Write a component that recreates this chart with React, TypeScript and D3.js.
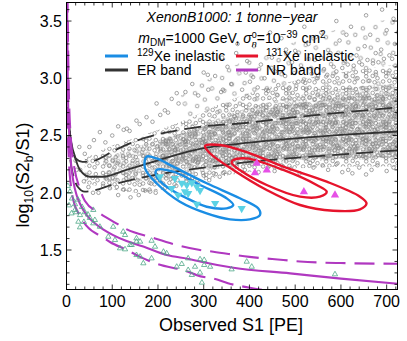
import React from "react";
import * as d3 from "d3";

// ---------- data ----------
const xTicks = [0, 100, 200, 300, 400, 500, 600, 700];
const yTicks = [1.5, 2.0, 2.5, 3.0, 3.5];

// ER band (S1, log10(S2b/S1))
const erMedian: [number, number][] = [[3, 2.75], [7.7, 2.52], [18.6, 2.315], [29.5, 2.2], [51, 2.14], [80, 2.14], [131, 2.2], [189, 2.27], [248, 2.34], [300, 2.39], [380, 2.43], [500, 2.475], [600, 2.505], [724, 2.535]];
const erUpper: [number, number][] = [[3, 2.75], [8, 2.5], [13, 2.38], [20, 2.3], [35, 2.27], [60, 2.28], [100, 2.36], [150, 2.45], [200, 2.51], [250, 2.55], [300, 2.58], [380, 2.605], [500, 2.66], [600, 2.7], [724, 2.745]];
const erLower: [number, number][] = [[4, 2.5], [8, 2.3], [15, 2.15], [25, 2.05], [40, 2.01], [60, 2.02], [100, 2.07], [150, 2.12], [200, 2.16], [300, 2.22], [400, 2.27], [500, 2.305], [600, 2.335], [724, 2.37]];

// NR band
const nrMedian: [number, number][] = [[1, 3.75], [3, 2.9], [6, 2.5], [10, 2.25], [15, 2.1], [22, 1.98], [30, 1.9], [45, 1.8], [60, 1.74], [80, 1.68], [102, 1.63], [130, 1.58], [168, 1.53], [219, 1.456], [270, 1.42], [292, 1.4], [365, 1.345], [489, 1.296], [600, 1.25], [724, 1.205]];
const nrUpper: [number, number][] = [[2, 3.75], [5, 2.9], [10, 2.45], [18, 2.2], [28, 2.05], [40, 1.93], [73, 1.82], [106, 1.74], [132, 1.68], [186, 1.61], [241, 1.544], [292, 1.5], [321, 1.485], [400, 1.44], [474, 1.413], [510, 1.4], [600, 1.386], [724, 1.38]];
const nrLower: [number, number][] = [[0.5, 3.75], [2, 2.7], [5, 2.3], [10, 2.05], [16, 1.92], [25, 1.83], [44, 1.71], [80, 1.61], [95, 1.57], [132, 1.5], [161, 1.44], [197, 1.38], [266, 1.31], [285, 1.28], [331, 1.24], [353, 1.21], [401, 1.17], [430, 1.15]];

// Contours
const xe129Outer: [number, number][] = [[175, 2.315], [197, 2.3], [233.5, 2.228], [306.5, 2.083], [379, 1.952], [419, 1.864], [423, 1.806], [401, 1.768], [357.5, 1.768], [306.5, 1.82], [248, 1.922], [197, 2.083], [171.6, 2.214]];
const xe129Inner: [number, number][] = [[197, 2.199], [233.5, 2.184], [292, 2.068], [350, 1.952], [364.7, 1.893], [350, 1.864], [306.5, 1.878], [263, 1.952], [219, 2.053], [197, 2.14]];
const xe131Outer: [number, number][] = [[302.8, 2.408], [335.6, 2.417], [401, 2.345], [474, 2.228], [569, 2.097], [641.7, 1.966], [656, 1.908], [641.7, 1.855], [583, 1.843], [510.5, 1.893], [437.7, 2.024], [364.7, 2.199], [313.7, 2.345]];
const xe131Inner: [number, number][] = [[364.7, 2.286], [394, 2.3], [474, 2.199], [547, 2.068], [569, 2.009], [554, 1.966], [510.5, 1.966], [437.7, 2.068], [379, 2.199], [361, 2.262]];

// Events
const xe129Events: [number, number][] = [[237, 2.126], [252, 2.083], [263, 2.068], [274, 2.088], [285, 2.053], [230, 2.039], [259, 2.009], [266, 1.995], [285, 1.9], [325, 1.908], [383, 1.864], [204, 2.14], [292, 2.02], [244, 1.98]];
const xe131Events: [number, number][] = [[416, 2.257], [412, 2.175], [438, 2.199], [519, 2.009], [587, 1.98]];
const nrEvents: [number, number][] = [[106, 1.587], [117, 1.515], [128, 1.506], [139, 1.544], [153, 1.573], [153, 1.456], [161, 1.442], [168, 1.384], [186, 1.581], [193.5, 1.529], [186, 1.427], [212, 1.485], [219, 1.471], [241, 1.354], [252, 1.378], [266, 1.427], [266, 1.325], [274, 1.282], [281, 1.354], [292, 1.419], [292, 1.302], [301, 1.413], [301, 1.369], [296, 1.215], [314, 1.354], [361, 1.331], [394, 1.398], [405, 1.354], [587, 1.288],
  [11, 1.82], [18.6, 1.85], [26, 1.747], [29.5, 1.698], [58.6, 1.85], [62, 1.762], [58.6, 1.733], [73, 1.703], [91.4, 1.616], [102, 1.703], [124, 1.66], [128, 1.631], [142.5, 1.544], [153, 1.602], [161, 1.573],
  [3, 2.06], [7.7, 2.01], [12, 1.95], [18.6, 1.9], [25, 1.94], [34, 1.876], [40, 1.83], [47, 1.81], [5.5, 1.89], [29.5, 1.805], [51, 1.78], [38, 1.745], [21, 1.83]];

// ER calibration cloud: density envelopes (sparse -> dense)
const cloud0S1 = [250, 350, 450, 550, 650, 724];
const cloud0Lo = [2.55, 2.7, 2.82, 2.88, 2.92, 2.95];
const cloud0Hi = [2.85, 3.08, 3.25, 3.38, 3.48, 3.52];
const cloud1S1 = [40, 80, 150, 250, 350, 450, 550, 650, 724];
const cloud1Lo = [2.08, 2.05, 2.0, 2.06, 2.15, 2.2, 2.22, 2.23, 2.23];
const cloud1Hi = [2.3, 2.38, 2.48, 2.62, 2.8, 2.93, 3.02, 3.08, 3.12];
const cloud2S1 = [80, 150, 250, 350, 450, 550, 650, 724];
const cloud2Lo = [2.1, 2.1, 2.14, 2.22, 2.26, 2.28, 2.29, 2.29];
const cloud2Hi = [2.3, 2.4, 2.52, 2.68, 2.8, 2.88, 2.93, 2.95];
const cloud3S1 = [200, 300, 400, 500, 600, 724];
const cloud3Lo = [2.22, 2.25, 2.28, 2.29, 2.3, 2.31];
const cloud3Hi = [2.45, 2.58, 2.7, 2.78, 2.83, 2.86];

// sparse calibration points outside the dense envelopes
const erSparse: [number, number][] = [
  [310, 2.9], [325, 3.02], [338, 2.88], [352, 3.1], [360, 2.95], [371, 3.22], [384, 2.9], [392, 3.05], [401, 2.97], [410, 3.28], [418, 2.92], [425, 3.12], [433, 3.0], [441, 2.89], [449, 3.18], [456, 3.06], [463, 2.94], [470, 3.35], [478, 3.02], [486, 2.91], [493, 3.14], [500, 3.24], [507, 2.97], [514, 3.08], [522, 2.96], [529, 3.3], [536, 3.04], [543, 3.16], [550, 3.02], [557, 3.4], [563, 3.08], [570, 3.03], [577, 3.22], [584, 3.1], [590, 3.06], [597, 3.33], [603, 3.09], [609, 3.15], [615, 3.12], [622, 3.45], [628, 3.11], [634, 3.2], [640, 3.14], [646, 3.12], [652, 3.28], [658, 3.16], [664, 3.38], [670, 3.13], [676, 3.22], [682, 3.14], [688, 3.25], [694, 3.17], [700, 3.42], [706, 3.2], [712, 3.17], [718, 3.3],
  [374, 3.3], [445, 3.4], [520, 3.45], [590, 3.5], [655, 3.55], [690, 3.6], [715, 3.52], [612, 3.38], [545, 3.36], [480, 3.25], [395, 3.15], [340, 3.18], [300, 3.05], [288, 2.85], [275, 2.95], [260, 2.88], [245, 2.78], [230, 2.82], [215, 2.72], [309, 3.03], [342, 2.9], [408, 3.01], [241, 2.87], [197, 2.78],
  [73, 2.53], [113, 2.58], [125, 2.55], [132, 2.56], [138, 2.54], [153, 2.63], [160, 2.6], [175, 2.66], [188, 2.62], [205, 2.68], [222, 2.7], [100, 2.5], [85, 2.44], [60, 2.46], [50, 2.4], [40, 2.34], [28, 2.4], [20, 2.28],
  [113, 1.98], [183, 2.01], [140, 1.96], [158, 1.98], [125, 2.03], [110, 2.05], [95, 2.04], [80, 2.06], [70, 2.0], [58, 2.0], [48, 2.05], [38, 2.1], [30, 2.2], [22, 2.2],
  [205, 2.1], [215, 2.04], [228, 2.12], [240, 2.06], [252, 2.15], [262, 2.1], [275, 2.13], [288, 2.08], [300, 2.15], [312, 2.11], [322, 2.17], [335, 2.14], [345, 2.18], [160, 2.07], [172, 2.02], [185, 2.08], [195, 2.0],
  [360, 2.27], [372, 2.23], [390, 2.2], [405, 2.25], [420, 2.18], [440, 2.22], [455, 2.19], [470, 2.24], [490, 2.21], [510, 2.17], [533, 2.26], [540, 2.22], [560, 2.24], [572, 2.2], [590, 2.25], [603, 2.18], [616, 2.2], [625, 2.17], [640, 2.22], [655, 2.16], [667, 2.2], [680, 2.24], [700, 2.19], [715, 2.22]
];

// ---------- layout ----------
const PL = 66.5, PR = 397.5, PT = 2.5, PB = 289.5;
const x = d3.scaleLinear().domain([0, 723.7]).range([PL, PR]);
const y = d3.scaleLinear().domain([1.155, 3.662]).range([PB, PT]);

const C = {
  blue: "#1a8de4", red: "#e6142c", er: "#333333", nr: "#b038c0",
  cyan: "#5bd2e4", magenta: "#e650e6", green: "#4fa888", gray: "#858585",
};

const line = d3.line<[number, number]>().x(d => x(d[0])).y(d => y(d[1])).curve(d3.curveMonotoneX);
const closed = d3.line<[number, number]>().x(d => x(d[0])).y(d => y(d[1])).curve(d3.curveCatmullRomClosed.alpha(0.5));
const area = (s: number[], lo: number[], hi: number[]) =>
  d3.area<number>().x((_, i) => x(s[i])).y0((_, i) => y(lo[i])).y1((_, i) => y(hi[i])).curve(d3.curveMonotoneX)(s.map((_, i) => i)) || "";

const tri = d3.symbol().type(d3.symbolTriangle);

// texture tiles used to render the dense part of the calibration cloud
const tileS: [number, number][] = [[4, 5], [15, 9], [9, 17], [19.5, 17.5]];
const tileA: [number, number][] = [[3, 3], [9.5, 2.6], [15.8, 4.1], [6.2, 8.4], [12.7, 7.9], [17.5, 10.2], [3.1, 13.5], [9.4, 12.8], [14.6, 14.3], [6.1, 4.9]];
const tileB: [number, number][] = [[2.5, 2.8], [8.1, 4.4], [14.2, 2.7], [5.2, 9.3], [11.3, 8.6], [14.5, 12.9], [3.0, 15.4], [8.6, 13.8], [12.0, 16.5], [6.8, 16.6]];
const tileC: [number, number][] = [[2.4, 2.5], [7.0, 3.2], [10.6, 2.4], [4.3, 7.9], [9.0, 7.4], [6.8, 6.0], [2.5, 5.4]];

export default function App() {
  const xMinor = d3.range(0, 724, 20);
  const yMinor = d3.range(1.2, 3.66, 0.1);
  const font = "'Liberation Sans', Arial, Helvetica, sans-serif";
  const circ = (p: [number, number], k: number) => <circle key={k} cx={p[0]} cy={p[1]} r={1.8} fill="none" stroke={C.gray} strokeWidth={0.75} />;
  return (
    <svg width={407} height={341} style={{ position: "absolute", left: 0, top: 0, background: "#fff" }} fontFamily={font}>
      <defs>
        <clipPath id="plot"><rect x={PL} y={PT} width={PR - PL} height={PB - PT} /></clipPath>
        <pattern id="pS" width={23} height={21} patternUnits="userSpaceOnUse" patternTransform="rotate(13)">{tileS.map(circ)}</pattern>
        <pattern id="pA" width={20} height={17} patternUnits="userSpaceOnUse">{tileA.map(circ)}</pattern>
        <pattern id="pB" width={17} height={19} patternUnits="userSpaceOnUse" patternTransform="rotate(27)">{tileB.map(circ)}</pattern>
        <pattern id="pC" width={13} height={11} patternUnits="userSpaceOnUse" patternTransform="rotate(-38)">{tileC.map(circ)}</pattern>
      </defs>

      <g clipPath="url(#plot)">
        <path d={area(cloud0S1, cloud0Lo, cloud0Hi)} fill="url(#pS)" />
        <path d={area(cloud1S1, cloud1Lo, cloud1Hi)} fill="url(#pA)" />
        <path d={area(cloud2S1, cloud2Lo, cloud2Hi)} fill="url(#pB)" />
        <path d={area(cloud3S1, cloud3Lo, cloud3Hi)} fill="url(#pC)" />
        {erSparse.map((d, i) => <circle key={"s" + i} cx={x(d[0])} cy={y(d[1])} r={1.8} fill="none" stroke={C.gray} strokeWidth={0.75} />)}

        <path d={line(erMedian) || ""} fill="none" stroke={C.er} strokeWidth={1.8} />
        <path d={line(erUpper) || ""} fill="none" stroke={C.er} strokeWidth={1.8} strokeDasharray="17,7" />
        <path d={line(erLower) || ""} fill="none" stroke={C.er} strokeWidth={1.8} strokeDasharray="17,7" />

        <path d={line(nrMedian) || ""} fill="none" stroke={C.nr} strokeWidth={2.1} />
        <path d={line(nrUpper) || ""} fill="none" stroke={C.nr} strokeWidth={2.1} strokeDasharray="20,9" />
        <path d={line(nrLower) || ""} fill="none" stroke={C.nr} strokeWidth={2.1} strokeDasharray="20,9" />

        {nrEvents.map((d, i) => <path key={"g" + i} d={tri.size(12)() || ""} transform={`translate(${x(d[0])},${y(d[1])})`} fill="none" stroke={C.green} strokeWidth={0.8} />)}

        <path d={closed(xe129Outer) || ""} fill="none" stroke={C.blue} strokeWidth={2.4} />
        <path d={closed(xe129Inner) || ""} fill="none" stroke={C.blue} strokeWidth={2.4} />
        <path d={closed(xe131Outer) || ""} fill="none" stroke={C.red} strokeWidth={2.4} />
        <path d={closed(xe131Inner) || ""} fill="none" stroke={C.red} strokeWidth={2.4} />

        {xe129Events.map((d, i) => <path key={"c" + i} d={tri.size(30)() || ""} transform={`translate(${x(d[0])},${y(d[1])}) rotate(180)`} fill={C.cyan} />)}
        {xe131Events.map((d, i) => <path key={"m" + i} d={tri.size(30)() || ""} transform={`translate(${x(d[0])},${y(d[1])})`} fill={C.magenta} />)}
      </g>

      {/* frame */}
      <rect x={PL} y={PT} width={PR - PL} height={PB - PT} fill="none" stroke="#000" strokeWidth={1} />
      {xMinor.map(v => {
        const major = v % 100 === 0;
        const L = major ? 5 : 3;
        return <g key={"xt" + v}>
          <line x1={x(v)} x2={x(v)} y1={PB} y2={PB - L} stroke="#000" strokeWidth={0.8} />
          <line x1={x(v)} x2={x(v)} y1={PT} y2={PT + L} stroke="#000" strokeWidth={0.8} />
        </g>;
      })}
      {yMinor.map(v => {
        const major = Math.abs(v * 2 - Math.round(v * 2)) < 1e-6;
        const L = major ? 5 : 3;
        return <g key={"yt" + v.toFixed(1)}>
          <line x1={PL} x2={PL + L} y1={y(v)} y2={y(v)} stroke="#000" strokeWidth={0.8} />
          <line x1={PR} x2={PR - L} y1={y(v)} y2={y(v)} stroke="#000" strokeWidth={0.8} />
        </g>;
      })}
      {xTicks.map(v => <text key={"xl" + v} x={x(v)} y={307} fontSize={16} textAnchor="middle">{v}</text>)}
      {yTicks.map(v => <text key={"yl" + v} x={62} y={y(v) + 5.8} fontSize={16} textAnchor="end">{v.toFixed(1)}</text>)}

      <text x={231} y={331} fontSize={18} textAnchor="middle">Observed S1 [PE]</text>
      <text transform="translate(29,175) rotate(-90)" fontSize={18} textAnchor="middle">
        log<tspan fontSize={12} dy={4}>10</tspan><tspan dy={-4}>(S2</tspan><tspan fontSize={12} dy={4}>b</tspan><tspan dy={-4}>/S1)</tspan>
      </text>

      {/* annotations */}
      <text x={232} y={22} fontSize={14} fontStyle="italic" textAnchor="middle">XenonB1000: 1 tonne−year</text>
      <text x={232} y={43} fontSize={14} textAnchor="middle">
        <tspan fontStyle="italic">m</tspan><tspan fontSize={10} dy={3}>DM</tspan><tspan dy={-3}>=1000 GeV, </tspan><tspan fontStyle="italic">σ</tspan><tspan fontSize={9} fontStyle="italic" dy={3.5}>n</tspan><tspan fontSize={9} dx={-5} dy={-9}>0</tspan><tspan dy={5.5}>=10</tspan><tspan fontSize={10} dy={-5}>−39</tspan><tspan dy={5}> cm</tspan><tspan fontSize={10} dy={-5}>2</tspan>
      </text>

      {/* legend */}
      <line x1={105} x2={128} y1={56} y2={56} stroke={C.blue} strokeWidth={3} />
      <text x={137} y={60.5} fontSize={14}><tspan fontSize={10} dy={-5}>129</tspan><tspan dy={5}>Xe inelastic</tspan></text>
      <line x1={236} x2={258} y1={56} y2={56} stroke={C.red} strokeWidth={3} />
      <text x={266} y={60.5} fontSize={14}><tspan fontSize={10} dy={-5}>131</tspan><tspan dy={5}>Xe inelastic</tspan></text>
      <line x1={105} x2={128} y1={70} y2={70} stroke={C.er} strokeWidth={3} />
      <text x={137} y={74.5} fontSize={14}>ER band</text>
      <line x1={236} x2={258} y1={70} y2={70} stroke={C.nr} strokeWidth={3} />
      <text x={266} y={74.5} fontSize={14}>NR band</text>
    </svg>
  );
}
